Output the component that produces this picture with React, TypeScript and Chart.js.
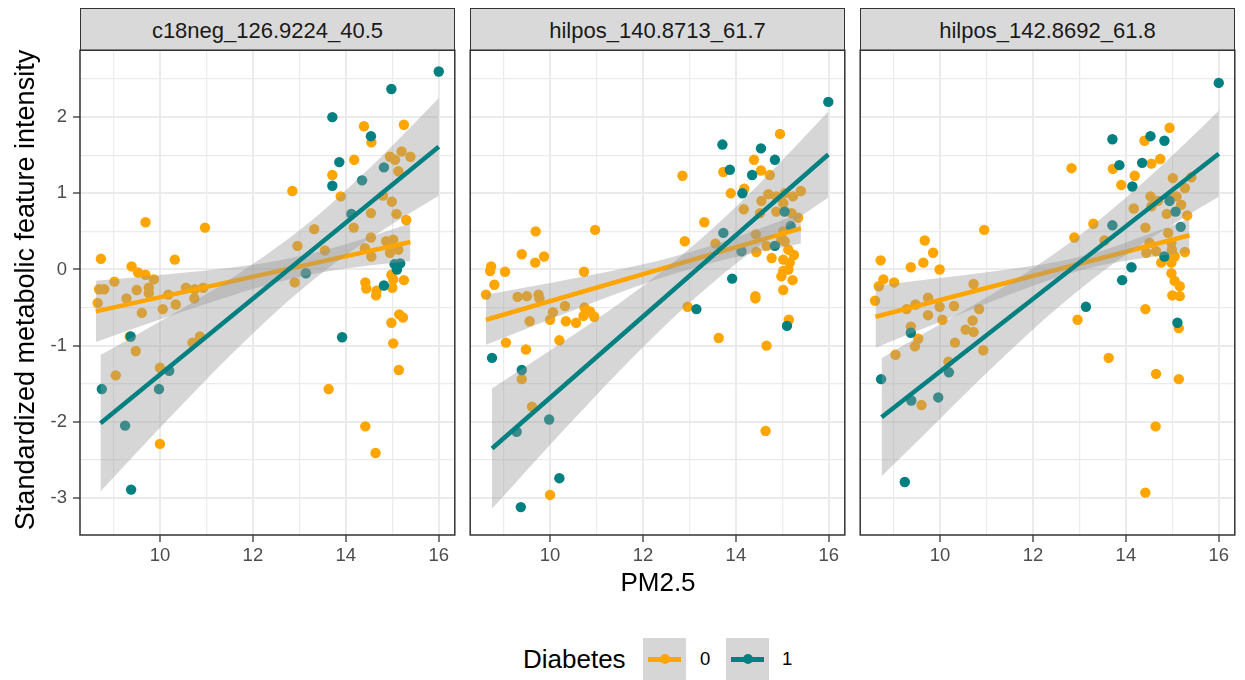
import React, { useEffect, useRef } from 'react';
import { Chart, registerables } from 'chart.js';
Chart.register(...registerables);

const FONT = '"Liberation Sans", Arial, Helvetica, sans-serif';
const ORANGE = '#FFA500';
const TEAL = '#008080';
const BAND = 'rgba(153,153,153,0.4)';

const panelTitles = ['c18neg_126.9224_40.5', 'hilpos_140.8713_61.7', 'hilpos_142.8692_61.8'];
const xTickValues = [9, 10, 11, 12, 13, 14, 15, 16];
const xMajor = [10, 12, 14, 16];
const yTickValues = [-3, -2.5, -2, -1.5, -1, -0.5, 0, 0.5, 1, 1.5, 2, 2.5];
const yMajor = [-3, -2, -1, 0, 1, 2];
const legendLabels = ['0', '1'];

// ---------- panel 1: c18neg_126.9224_40.5 ----------
const c18negDiab0: [number, number][] = [
  [14.39, 1.88], [15.25, 1.9], [14.55, 1.67], [14.18, 1.44], [13.71, 1.24], [12.85, 1.03], [14.95, 1.48], [15.2, 1.55],
  [15.39, 1.48], [15.06, 1.44], [15.13, 1.29], [13.89, 0.96], [14.8, 0.97], [14.99, 0.89], [14.54, 0.74], [15.09, 0.73],
  [15.3, 0.65], [14.17, 0.55], [13.32, 0.53], [12.96, 0.31], [13.55, 0.25], [14.54, 0.42], [14.87, 0.37], [15.02, 0.39],
  [14.41, 0.28], [14.55, 0.17], [15.13, 0.26], [14.95, 0.22], [9.69, 0.62], [10.97, 0.55], [8.73, 0.14], [10.32, 0.13],
  [9.39, 0.04], [9.53, -0.04], [9.69, -0.07], [9.87, -0.13], [9.02, -0.16], [8.69, -0.26], [8.8, -0.26], [9.5, -0.27],
  [9.76, -0.24], [9.76, -0.31], [10.56, -0.24], [10.75, -0.26], [10.93, -0.24], [9.28, -0.38], [10.18, -0.33], [10.74, -0.38],
  [8.66, -0.44], [9.61, -0.57], [10.06, -0.52], [10.34, -0.46], [9.35, -0.88], [9.48, -1.07], [10.86, -0.88], [10.7, -0.96],
  [10.0, -1.29], [9.05, -1.39], [10.0, -2.29], [12.9, -0.17], [14.42, -0.17], [14.44, -0.25], [14.66, -0.28], [14.65, -0.34],
  [14.98, -0.07], [15.02, -0.13], [15.0, -0.24], [15.25, -0.14], [15.15, -0.59], [15.23, -0.63], [14.98, -0.7], [15.02, -0.97],
  [15.14, -1.32], [13.63, -1.57], [14.42, -2.06], [14.64, -2.41],
];
const c18negDiab1: [number, number][] = [
  [16.0, 2.6], [14.98, 2.37], [13.71, 2.0], [14.54, 1.75], [13.86, 1.41], [13.71, 1.1], [14.35, 1.17], [14.82, 1.34],
  [14.12, 0.73], [13.14, -0.05], [15.05, 0.07], [15.17, 0.08], [15.1, 0.0], [14.82, -0.21], [9.37, -0.88], [13.92, -0.89],
  [8.75, -1.57], [9.98, -1.57], [10.2, -1.33], [9.25, -2.05], [9.38, -2.89],
];
const c18negFit0: [number, number][] = [[8.62, -0.55], [15.39, 0.36]];
const c18negFit1: [number, number][] = [[8.72, -2.02], [16.0, 1.61]];
const c18negBand0X = [8.62, 9.5, 10.5, 11.5, 12.5, 13.5, 14.5, 15.39];
const c18negBand0Hi = [-0.148, -0.101, -0.042, 0.024, 0.112, 0.247, 0.427, 0.607];
const c18negBand0Lo = [-0.952, -0.763, -0.552, -0.35, -0.17, -0.035, 0.053, 0.113];
const c18negBand1X = [8.72, 9.5, 10.5, 11.5, 12.5, 13.5, 14.5, 15.25, 16.0];
const c18negBand1Hi = [-1.124, -0.858, -0.506, -0.132, 0.284, 0.766, 1.325, 1.779, 2.251];
const c18negBand1Lo = [-2.916, -2.404, -1.76, -1.136, -0.554, -0.04, 0.399, 0.693, 0.969];

// ---------- panel 2: hilpos_140.8713_61.7 ----------
const hilpos140Diab0: [number, number][] = [
  [14.95, 1.78], [14.39, 1.44], [14.54, 1.3], [14.73, 1.24], [13.73, 1.28], [12.85, 1.23], [14.18, 1.06], [13.89, 1.0],
  [14.7, 0.99], [14.55, 0.9], [14.87, 0.96], [15.05, 1.0], [15.23, 0.96], [15.4, 1.03], [14.17, 0.79], [14.52, 0.74],
  [14.87, 0.76], [15.02, 0.87], [15.2, 0.74], [15.34, 0.68], [13.32, 0.62], [14.43, 0.46], [15.02, 0.5], [14.98, 0.39],
  [15.05, 0.37], [12.9, 0.37], [13.56, 0.34], [14.44, 0.23], [14.66, 0.31], [14.77, 0.15], [15.02, 0.13], [15.13, 0.26],
  [15.25, 0.19], [15.16, 0.09], [15.02, -0.02], [15.13, 0.0], [14.98, -0.09], [15.22, -0.14], [15.02, -0.27], [14.42, -0.35],
  [14.42, -0.38], [15.14, -0.66], [14.66, -1.0], [14.64, -2.12], [13.63, -0.9], [12.96, -0.49], [9.69, 0.5], [10.97, 0.52],
  [9.39, 0.2], [9.87, 0.17], [9.68, 0.09], [8.73, 0.04], [8.71, -0.02], [9.03, -0.03], [10.73, -0.03], [8.8, -0.2],
  [8.62, -0.33], [9.3, -0.36], [9.5, -0.35], [9.75, -0.33], [9.77, -0.38], [10.32, -0.48], [10.74, -0.5], [10.06, -0.56],
  [10.0, -0.66], [9.56, -0.68], [10.34, -0.68], [10.56, -0.7], [10.72, -0.61], [10.86, -0.55], [10.95, -0.62], [9.05, -0.96],
  [9.48, -1.05], [10.2, -0.93], [9.39, -1.44], [9.61, -1.8], [10.0, -2.96],
];
const hilpos140Diab1: [number, number][] = [
  [15.99, 2.2], [13.71, 1.64], [14.54, 1.59], [14.84, 1.44], [13.87, 1.31], [14.35, 1.24], [14.14, 1.0], [15.05, 0.76],
  [15.18, 0.57], [13.73, 0.48], [14.12, 0.24], [14.84, 0.31], [13.92, -0.12], [13.15, -0.52], [15.1, -0.74], [8.75, -1.16],
  [9.39, -1.32], [9.98, -1.97], [9.28, -2.13], [10.2, -2.74], [9.37, -3.12],
];
const hilpos140Fit0: [number, number][] = [[8.62, -0.66], [15.4, 0.54]];
const hilpos140Fit1: [number, number][] = [[8.75, -2.35], [15.99, 1.51]];
const hilpos140Band0X = [8.62, 9.5, 10.5, 11.5, 12.5, 13.5, 14.5, 15.4];
const hilpos140Band0Hi = [-0.331, -0.234, -0.119, 0.003, 0.142, 0.319, 0.534, 0.74];
const hilpos140Band0Lo = [-0.989, -0.774, -0.535, -0.303, -0.088, 0.089, 0.228, 0.34];
const hilpos140Band1X = [8.75, 9.5, 10.5, 11.5, 12.5, 13.5, 14.5, 15.25, 15.99];
const hilpos140Band1Hi = [-1.561, -1.265, -0.861, -0.439, 0.02, 0.538, 1.123, 1.594, 2.074];
const hilpos140Band1Lo = [-3.139, -2.635, -1.973, -1.329, -0.722, -0.174, 0.307, 0.636, 0.946];

// ---------- panel 3: hilpos_142.8692_61.8 ----------
const hilpos142Diab0: [number, number][] = [
  [14.94, 1.86], [14.4, 1.69], [14.55, 1.39], [14.74, 1.45], [13.72, 1.32], [12.83, 1.33], [14.19, 1.23], [13.9, 1.11],
  [15.01, 1.2], [15.41, 1.21], [15.27, 1.07], [15.09, 0.96], [14.94, 0.96], [14.53, 0.96], [14.69, 0.9], [15.19, 0.85],
  [14.55, 0.83], [14.17, 0.8], [14.88, 0.73], [15.32, 0.71], [13.3, 0.6], [14.42, 0.55], [12.89, 0.42], [13.54, 0.38],
  [14.91, 0.48], [10.95, 0.52], [9.67, 0.38], [9.85, 0.22], [8.72, 0.12], [9.37, 0.03], [9.64, 0.09], [9.99, 0.0],
  [8.78, -0.13], [8.68, -0.22], [9.01, -0.17], [10.72, -0.19], [14.51, 0.35], [14.98, 0.35], [14.99, 0.26], [14.44, 0.22],
  [14.65, 0.24], [15.27, 0.23], [15.05, 0.17], [14.76, 0.09], [14.98, 0.09], [14.98, -0.05], [15.05, -0.15], [15.16, -0.22],
  [15.0, -0.34], [15.16, -0.35], [8.6, -0.41], [9.28, -0.52], [9.47, -0.46], [9.74, -0.37], [9.99, -0.49], [10.3, -0.48],
  [10.84, -0.52], [9.74, -0.6], [10.05, -0.66], [9.37, -0.75], [9.53, -0.91], [9.46, -1.01], [10.55, -0.79], [10.7, -0.67],
  [10.72, -0.82], [10.32, -0.96], [9.04, -1.12], [10.93, -1.06], [10.18, -1.21], [9.6, -1.78], [14.42, -0.52], [12.96, -0.66],
  [13.63, -1.16], [14.65, -1.37], [15.14, -0.77], [15.14, -1.44], [14.64, -2.06], [14.42, -2.93],
];
const hilpos142Diab1: [number, number][] = [
  [16.0, 2.45], [13.71, 1.71], [14.53, 1.75], [14.83, 1.69], [13.86, 1.37], [14.35, 1.4], [14.14, 1.09], [14.94, 0.9],
  [15.07, 0.76], [15.18, 0.56], [13.71, 0.58], [14.83, 0.17], [14.12, 0.03], [13.92, -0.14], [13.14, -0.49], [15.11, -0.7],
  [8.73, -1.44], [9.37, -0.83], [9.38, -1.72], [9.96, -1.68], [10.19, -1.35], [9.24, -2.79],
];
const hilpos142Fit0: [number, number][] = [[8.61, -0.62], [15.37, 0.45]];
const hilpos142Fit1: [number, number][] = [[8.74, -1.94], [16.0, 1.52]];
const hilpos142Band0X = [8.61, 9.5, 10.5, 11.5, 12.5, 13.5, 14.5, 15.37];
const hilpos142Band0Hi = [-0.213, -0.149, -0.075, 0.004, 0.1, 0.25, 0.465, 0.67];
const hilpos142Band0Lo = [-1.027, -0.809, -0.567, -0.33, -0.108, 0.058, 0.159, 0.23];
const hilpos142Band1X = [8.74, 9.5, 10.5, 11.5, 12.5, 13.5, 14.5, 15.25, 16.0];
const hilpos142Band1Hi = [-1.165, -0.893, -0.545, -0.18, 0.223, 0.685, 1.213, 1.642, 2.085];
const hilpos142Band1Lo = [-2.715, -2.263, -1.657, -1.07, -0.519, -0.027, 0.397, 0.684, 0.955];

const panels = [
  { pts0: c18negDiab0, pts1: c18negDiab1, fit0: c18negFit0, fit1: c18negFit1,
    b0x: c18negBand0X, b0h: c18negBand0Hi, b0l: c18negBand0Lo, b1x: c18negBand1X, b1h: c18negBand1Hi, b1l: c18negBand1Lo },
  { pts0: hilpos140Diab0, pts1: hilpos140Diab1, fit0: hilpos140Fit0, fit1: hilpos140Fit1,
    b0x: hilpos140Band0X, b0h: hilpos140Band0Hi, b0l: hilpos140Band0Lo, b1x: hilpos140Band1X, b1h: hilpos140Band1Hi, b1l: hilpos140Band1Lo },
  { pts0: hilpos142Diab0, pts1: hilpos142Diab1, fit0: hilpos142Fit0, fit1: hilpos142Fit1,
    b0x: hilpos142Band0X, b0h: hilpos142Band0Hi, b0l: hilpos142Band0Lo, b1x: hilpos142Band1X, b1h: hilpos142Band1Hi, b1l: hilpos142Band1Lo },
];

const PLOT_LEFTS = [80, 470, 860];
const PLOT_W = 375;
const PLOT_TOP = 50;
const PLOT_H = 485;

const toXY = (pairs: [number, number][]) => pairs.map(([x, y]) => ({ x, y }));
const zipXY = (xs: number[], ys: number[]) => xs.map((x, i) => ({ x, y: ys[i] }));

const borderPlugin = {
  id: 'panelBorder',
  afterDraw(chart: any) {
    const { ctx, chartArea: a } = chart;
    ctx.save();
    ctx.strokeStyle = '#333333';
    ctx.lineWidth = 1.5;
    ctx.strokeRect(a.left, a.top, a.right - a.left, a.bottom - a.top);
    ctx.restore();
  },
};

function Panel({ idx }: { idx: number }) {
  const ref = useRef<HTMLCanvasElement>(null);
  const axisW = idx === 0 ? 80 : 5;
  const width = axisW + PLOT_W + 5;
  const height = 5 + PLOT_H + 45;
  const left = PLOT_LEFTS[idx] - axisW;

  useEffect(() => {
    const p = panels[idx];
    const invisible = 'rgba(0,0,0,0)';
    const bandBase = { type: 'line' as const, borderColor: invisible, borderWidth: 1, pointRadius: 0, cubicInterpolationMode: 'monotone' as const };
    const noPad = (s: any) => { s.paddingTop = 0; s.paddingBottom = 0; s.paddingLeft = 0; s.paddingRight = 0; };
    const chart = new Chart(ref.current as HTMLCanvasElement, {
      type: 'scatter',
      data: {
        datasets: [
          { ...bandBase, data: zipXY(p.b0x, p.b0h), fill: '+1', backgroundColor: BAND, order: 5 },
          { ...bandBase, data: zipXY(p.b0x, p.b0l), fill: false, order: 5 },
          { type: 'line', data: toXY(p.fit0), borderColor: ORANGE, borderWidth: 4.5, pointRadius: 0, fill: false, order: 4 },
          { ...bandBase, data: zipXY(p.b1x, p.b1h), fill: '+1', backgroundColor: BAND, order: 3 },
          { ...bandBase, data: zipXY(p.b1x, p.b1l), fill: false, order: 3 },
          { type: 'line', data: toXY(p.fit1), borderColor: TEAL, borderWidth: 4.5, pointRadius: 0, fill: false, order: 2 },
          { type: 'scatter', data: toXY(p.pts0), backgroundColor: ORANGE, borderWidth: 0, pointRadius: 5.2, order: 7 },
          { type: 'scatter', data: toXY(p.pts1), backgroundColor: TEAL, borderWidth: 0, pointRadius: 5.2, order: 6 },
        ] as any,
      },
      options: {
        animation: false,
        responsive: false,
        events: [],
        layout: { padding: { left: 0, top: 5, right: 5, bottom: 0 } },
        plugins: { legend: { display: false }, tooltip: { enabled: false } },
        scales: {
          x: {
            type: 'linear',
            min: 8.28,
            max: 16.345,
            afterBuildTicks: (s: any) => { s.ticks = xTickValues.map((v) => ({ value: v })); },
            afterFit: (s: any) => { s.height = 45; noPad(s); },
            border: { display: false },
            grid: {
              color: '#EBEBEB',
              lineWidth: (c: any) => (c.tick && xMajor.includes(c.tick.value) ? 2 : 1.2),
              tickColor: (c: any) => (c.tick && xMajor.includes(c.tick.value) ? '#333333' : invisible),
              tickLength: 7,
              tickWidth: 1.3,
            },
            ticks: {
              autoSkip: false,
              maxRotation: 0,
              padding: 3,
              color: '#4D4D4D',
              font: { family: FONT, size: 18.5 },
              callback: (v: any) => (xMajor.includes(Number(v)) ? String(v) : ''),
            },
          },
          y: {
            type: 'linear',
            min: -3.486,
            max: 2.879,
            afterBuildTicks: (s: any) => { s.ticks = yTickValues.map((v) => ({ value: v })); },
            afterFit: (s: any) => { s.width = axisW; noPad(s); },
            border: { display: false },
            grid: {
              color: '#EBEBEB',
              lineWidth: (c: any) => (c.tick && yMajor.includes(c.tick.value) ? 2 : 1.2),
              tickColor: (c: any) => (c.tick && yMajor.includes(c.tick.value) ? '#333333' : invisible),
              tickLength: 7,
              tickWidth: 1.3,
              drawTicks: idx === 0,
            },
            ticks: {
              display: idx === 0,
              autoSkip: false,
              padding: 6,
              color: '#4D4D4D',
              font: { family: FONT, size: 18.5 },
              callback: (v: any) => (yMajor.includes(Number(v)) ? String(v) : ''),
            },
          },
        },
      },
      plugins: [borderPlugin],
    });
    return () => chart.destroy();
  }, [idx]);

  return (
    <canvas
      ref={ref}
      width={width}
      height={height}
      style={{ position: 'absolute', left, top: PLOT_TOP - 5, width, height, display: 'block' }}
    />
  );
}

function Strip({ idx }: { idx: number }) {
  return (
    <div
      style={{
        position: 'absolute', left: PLOT_LEFTS[idx], top: 8, width: PLOT_W, height: 43, boxSizing: 'border-box',
        border: '1.5px solid #333333', background: '#D9D9D9', display: 'flex', alignItems: 'center',
        justifyContent: 'center', fontFamily: FONT, fontSize: 22, color: '#1A1A1A', paddingTop: 2,
      }}
    >
      {panelTitles[idx]}
    </div>
  );
}

function LegendKey({ left, color }: { left: number; color: string }) {
  return (
    <div style={{ position: 'absolute', left, top: 638, width: 43, height: 42, background: '#D6D6D6' }}>
      <div style={{ position: 'absolute', left: 5, right: 5, top: 19, height: 4.5, background: color }} />
      <div style={{ position: 'absolute', left: 16.5, top: 16, width: 10.4, height: 10.4, borderRadius: '50%', background: color }} />
    </div>
  );
}

export default function App() {
  return (
    <div style={{ position: 'absolute', left: 0, top: 0, width: 1245, height: 680, background: '#FFFFFF', overflow: 'hidden', fontFamily: FONT }}>
      {[0, 1, 2].map((i) => <Strip key={'s' + i} idx={i} />)}
      {[0, 1, 2].map((i) => <Panel key={'p' + i} idx={i} />)}
      <div
        style={{
          position: 'absolute', left: 25 - 300, top: 290 - 18, width: 600, height: 36, lineHeight: '36px',
          textAlign: 'center', transform: 'rotate(-90deg)', fontSize: 27, color: '#000000', whiteSpace: 'nowrap',
        }}
      >
        Standardized metabolic feature intensity
      </div>
      <div
        style={{
          position: 'absolute', left: 658 - 200, top: 582 - 18, width: 400, height: 36, lineHeight: '36px',
          textAlign: 'center', fontSize: 26, color: '#000000',
        }}
      >
        PM2.5
      </div>
      <div style={{ position: 'absolute', left: 523, top: 659 - 18, height: 36, lineHeight: '36px', fontSize: 26, color: '#000000' }}>
        Diabetes
      </div>
      <LegendKey left={643} color={ORANGE} />
      <div style={{ position: 'absolute', left: 700, top: 659 - 14, height: 28, lineHeight: '28px', fontSize: 18.5, color: '#000000' }}>
        {legendLabels[0]}
      </div>
      <LegendKey left={726} color={TEAL} />
      <div style={{ position: 'absolute', left: 782, top: 659 - 14, height: 28, lineHeight: '28px', fontSize: 18.5, color: '#000000' }}>
        {legendLabels[1]}
      </div>
    </div>
  );
}
